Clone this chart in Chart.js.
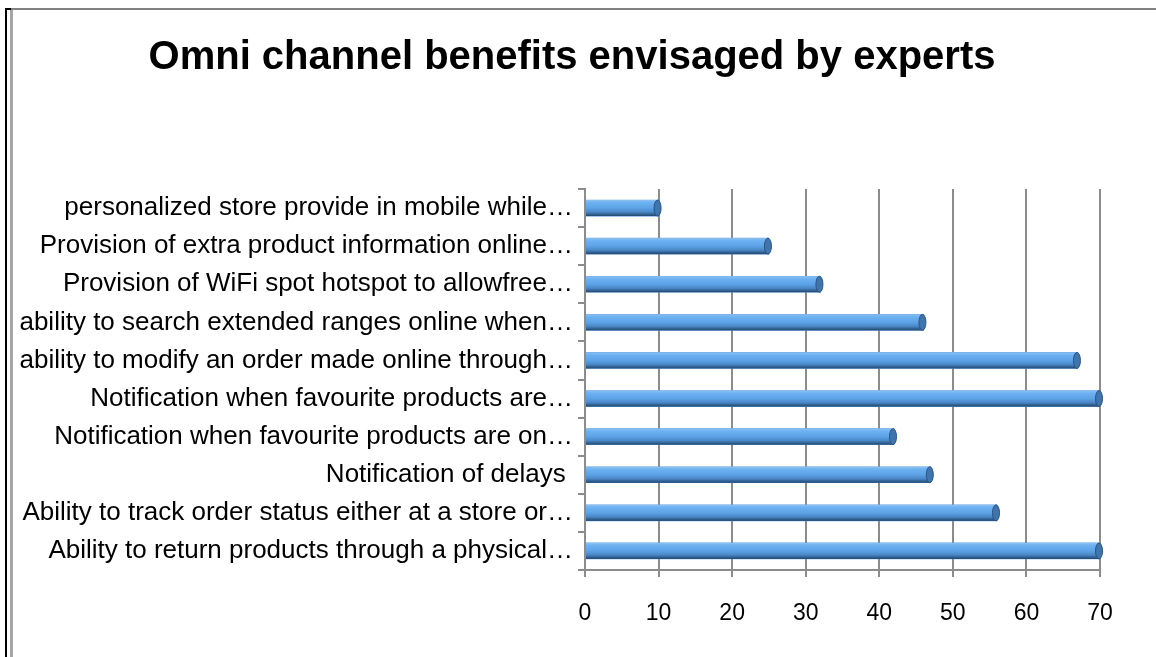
<!DOCTYPE html>
<html>
<head>
<meta charset="utf-8">
<script src="https://cdn.jsdelivr.net/npm/chart.js@4/dist/chart.umd.min.js"></script>
<style>
    body { margin: 0; background: #fff; }
    #wrap { position: relative; width: 1156px; height: 657px; overflow: hidden; }
    #myChart { position: absolute; left: 0; top: 0; }
    .edge { position: absolute; pointer-events: none; }
</style>
</head>
<body>
<div id="wrap">
    <canvas id="myChart" width="1156" height="657"></canvas>
    <!-- frame lines round the chart -->
    <div class="edge" style="left:5px; top:8px; width:2px; height:649px; background:#000"></div>
    <div class="edge" style="left:5px; top:8px; width:6px; height:2px; background:#000"></div>
    <div class="edge" style="left:11px; top:8px; width:1145px; height:2px; background:#808080"></div>
    <div class="edge" style="left:10px; top:10px; width:3px; height:647px; background:#a6a6a6"></div>
</div>
<script>
"use strict"

// chart data, listed top to bottom as in the picture
let categories = [
    'personalized store provide in mobile while…',
    'Provision of extra product information online…',
    'Provision of WiFi spot hotspot to allowfree…',
    'ability to search extended ranges online when…',
    'ability to modify an order made online through…',
    'Notification when favourite products are…',
    'Notification when favourite products are on…',
    'Notification of delays ',
    'Ability to track order status either at a store or…',
    'Ability to return products through a physical…'
]
let expertCounts = [10, 25, 32, 46, 67, 70, 42, 47, 56, 70]
let xTicks = [0, 10, 20, 30, 40, 50, 60, 70]

const GRID = '#8c8c8c'

// cylinder look: repaint every bar with a vertical gradient, then the darker end face
const cylinderPlugin = {
    id: 'cylinders',
    afterDatasetsDraw(chart) {
        let ctx = chart.ctx
        let meta = chart.getDatasetMeta(0)
        ctx.save()
        for (let i = 0; i < meta.data.length; i++) {
            let bar = meta.data[i]
            let h = bar.height
            let top = bar.y - h / 2
            let g = ctx.createLinearGradient(0, top, 0, top + h)
            g.addColorStop(0, '#8fc0ee')
            g.addColorStop(0.15, '#6db2f2')
            g.addColorStop(0.5, '#5ca2e6')
            g.addColorStop(0.75, '#4a87c6')
            g.addColorStop(0.9, '#30608f')
            g.addColorStop(1, '#22446a')
            ctx.fillStyle = g
            ctx.fillRect(bar.base, top, bar.x - bar.base, h)

            ctx.beginPath()
            ctx.ellipse(bar.x - 1, bar.y, 3.5, h / 2, 0, 0, Math.PI * 2)
            ctx.fillStyle = '#3f74ad'
            ctx.fill()
            ctx.strokeStyle = '#2b5584'
            ctx.lineWidth = 1
            ctx.stroke()
        }
        ctx.restore()
    }
}

let ctx = document.getElementById('myChart').getContext('2d')
let myChart = new Chart(ctx, {
    type: 'bar',
    data: {
        labels: categories,
        datasets: [{
            data: expertCounts,
            backgroundColor: '#5ca2e6',
            borderWidth: 0,
            barThickness: 16
        }]
    },
    options: {
        indexAxis: 'y',
        responsive: false,
        animation: false,
        layout: { padding: { left: 0, right: 12, top: 0, bottom: 0 } },
        plugins: {
            legend: { display: false },
            tooltip: { enabled: false },
            title: {
                display: true,
                text: 'Omni channel benefits envisaged by experts',
                color: '#000',
                font: { family: '"Liberation Sans", Arial, sans-serif', size: 40, weight: 'bold' },
                padding: { top: 34, bottom: 107 }
            }
        },
        scales: {
            x: {
                min: 0,
                max: 70,
                afterBuildTicks: function(scale) {
                    scale.ticks = xTicks.map(v => ({ value: v }))
                },
                afterFit: function(scale) { scale.height = 87 },
                grid: { color: GRID, lineWidth: 2, tickLength: 7 },
                border: { color: GRID, width: 2 },
                ticks: {
                    color: '#000',
                    padding: 23,
                    font: { family: '"Liberation Sans", Arial, sans-serif', size: 23 }
                }
            },
            y: {
                afterFit: function(scale) { scale.width = 585 },
                grid: { drawOnChartArea: false, color: GRID, lineWidth: 2, tickLength: 7 },
                border: { color: GRID, width: 2 },
                ticks: {
                    color: '#000',
                    padding: 5,
                    autoSkip: false,
                    font: { family: '"Liberation Sans", Arial, sans-serif', size: 26 }
                }
            },
            // empty right-hand axis, only there to hold the plot's right margin
            yRight: {
                type: 'category',
                position: 'right',
                afterFit: function(scale) { scale.width = 44 },
                grid: { display: false },
                border: { display: false },
                ticks: { display: false }
            }
        }
    },
    plugins: [cylinderPlugin]
})
</script>
</body>
</html>
